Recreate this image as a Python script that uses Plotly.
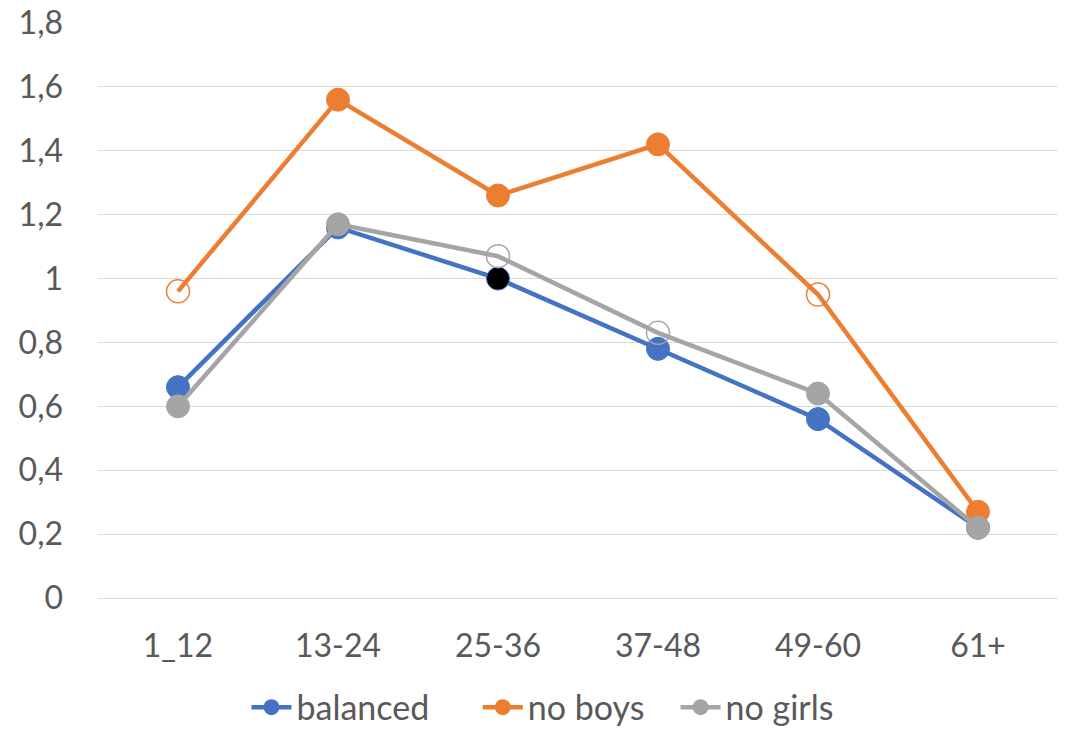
import plotly.graph_objects as go

categories = ["1_12", "13-24", "25-36", "37-48", "49-60", "61+"]
balanced = [0.66, 1.16, 1.00, 0.78, 0.56, 0.22]
no_boys = [0.96, 1.56, 1.26, 1.42, 0.95, 0.27]
no_girls = [0.60, 1.17, 1.07, 0.83, 0.64, 0.22]
y_ticks = [0, 0.2, 0.4, 0.6, 0.8, 1.0, 1.2, 1.4, 1.6, 1.8]

BLUE = "#4472C4"
ORANGE = "#ED7D31"
GRAY = "#A5A5A5"
CLEAR = "rgba(0,0,0,0)"

series = [
    ("balanced", balanced, BLUE,
     [BLUE, BLUE, "#000000", BLUE, BLUE, BLUE],
     [BLUE] * 6, [0] * 6),
    ("no boys", no_boys, ORANGE,
     [CLEAR, ORANGE, ORANGE, ORANGE, CLEAR, ORANGE],
     [ORANGE] * 6, [1.5, 0, 0, 0, 1.5, 0]),
    ("no girls", no_girls, GRAY,
     [GRAY, GRAY, CLEAR, CLEAR, GRAY, GRAY],
     [GRAY] * 6, [0, 0, 1.5, 1.5, 0, 0]),
]
pads = ["\u00a0" * 5, "\u00a0" * 3, ""]

fig = go.Figure()
for name, vals, col, fills, lines, lws in series:
    fig.add_trace(go.Scatter(
        x=categories, y=vals, mode="lines+markers", name=name,
        line=dict(color=col, width=4.5),
        marker=dict(size=23, color=fills,
                    line=dict(color=lines, width=[max(w, 1) for w in lws])),
        showlegend=False, legendgroup=name,
    ))
for (name, vals, col, fills, lines, lws), pad in zip(series, pads):
    fig.add_trace(go.Scatter(
        x=[None], y=[None], mode="lines+markers",
        name=name + pad,
        line=dict(color=col, width=4.5),
        marker=dict(size=23, color=col),
        showlegend=True, legendgroup=name,
    ))

fig.update_layout(
    width=1069, height=731,
    margin=dict(l=98, r=11, t=23, b=133, autoexpand=False),
    paper_bgcolor="white", plot_bgcolor="white",
    separators=",.",
    font=dict(family="Lato, Carlito, Calibri, sans-serif", size=32, color="#595959"),
    showlegend=True,
    legend=dict(orientation="h", x=0.463, xanchor="center",
                yref="container", y=0.032, yanchor="middle",
                font=dict(size=34, color="#595959"), itemwidth=40,
                tracegroupgap=0, bgcolor=CLEAR),
    xaxis=dict(type="category", range=[-0.5, 5.5], showgrid=False,
               showline=True, linecolor="#D9D9D9", linewidth=1,
               ticks="", ticklabelstandoff=20, zeroline=False, automargin=False),
    yaxis=dict(range=[0, 1.8], tickvals=y_ticks, showgrid=True,
               gridcolor="#D9D9D9", gridwidth=1, zeroline=False,
               showline=False, ticks="", ticklabelstandoff=34, automargin=False),
)

fig.write_html("out.html", config={"displayModeBar": False},
               post_script="document.body.style.margin='0';document.body.style.overflow='hidden';")
